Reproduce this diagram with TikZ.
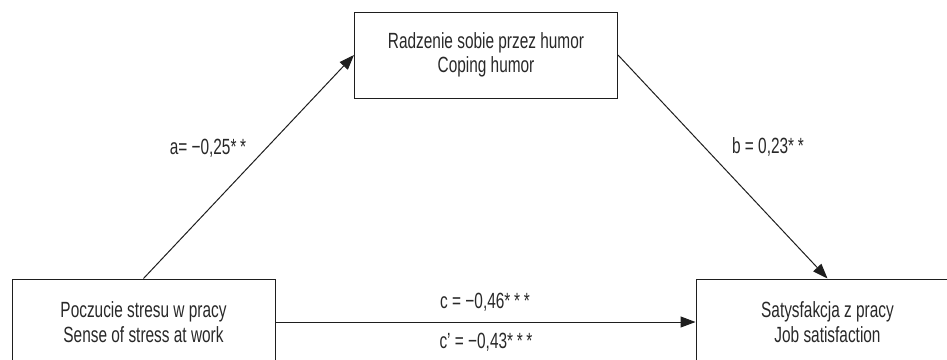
\documentclass[tikz,border=0pt]{standalone}
\usepackage{fontspec}
\setmainfont[FakeStretch=0.7]{Liberation Sans}
\definecolor{InkGray}{RGB}{40,40,40}
\definecolor{LineGray}{RGB}{30,30,30}
\usetikzlibrary{arrows.meta, positioning, calc}

\begin{document}
\begin{tikzpicture}[x=1pt,y=-1pt,
	varbox/.style={draw=LineGray, line width=1pt, minimum width=263pt, minimum height=86pt,
		align=center, text=InkGray, font=\fontsize{22}{24.5}\selectfont, inner sep=0pt},
	path/.style={LineGray, line width=1pt, -{Triangle[length=15pt,width=11pt]}},
	coef/.style={text=InkGray, font=\fontsize{22}{24}\selectfont, inner sep=0pt}]
\useasboundingbox (0,0) rectangle (947,359);
\clip (0,0) rectangle (947,359);
% zmienne
\node[varbox] (stres) at (143.5,322) {Poczucie stresu w pracy\\Sense of stress at work};
\node[varbox] (humor) at (486,55) {Radzenie sobie przez humor\\Coping humor};
\node[varbox] (satys) at (827.5,322) {Satysfakcja z pracy\\Job satisfaction};
% sciezki
\draw[path] (stres.north) -- (humor.west);
\draw[path] (humor.east) -- (satys.north);
\draw[path] (stres.east) -- (satys.west);
% wspolczynniki
\node[coef] (a) at (208,148) {a= −0,25*\,*};
\node[coef] (b) at (768,147) {b = 0,23*\,*};
\node[coef] (c) at (485,302) {c = −0,46*\,*\,*};
\node[coef] (cp) at (486,342) {c' = −0,43*\,*\,*};
\end{tikzpicture}
\end{document}
